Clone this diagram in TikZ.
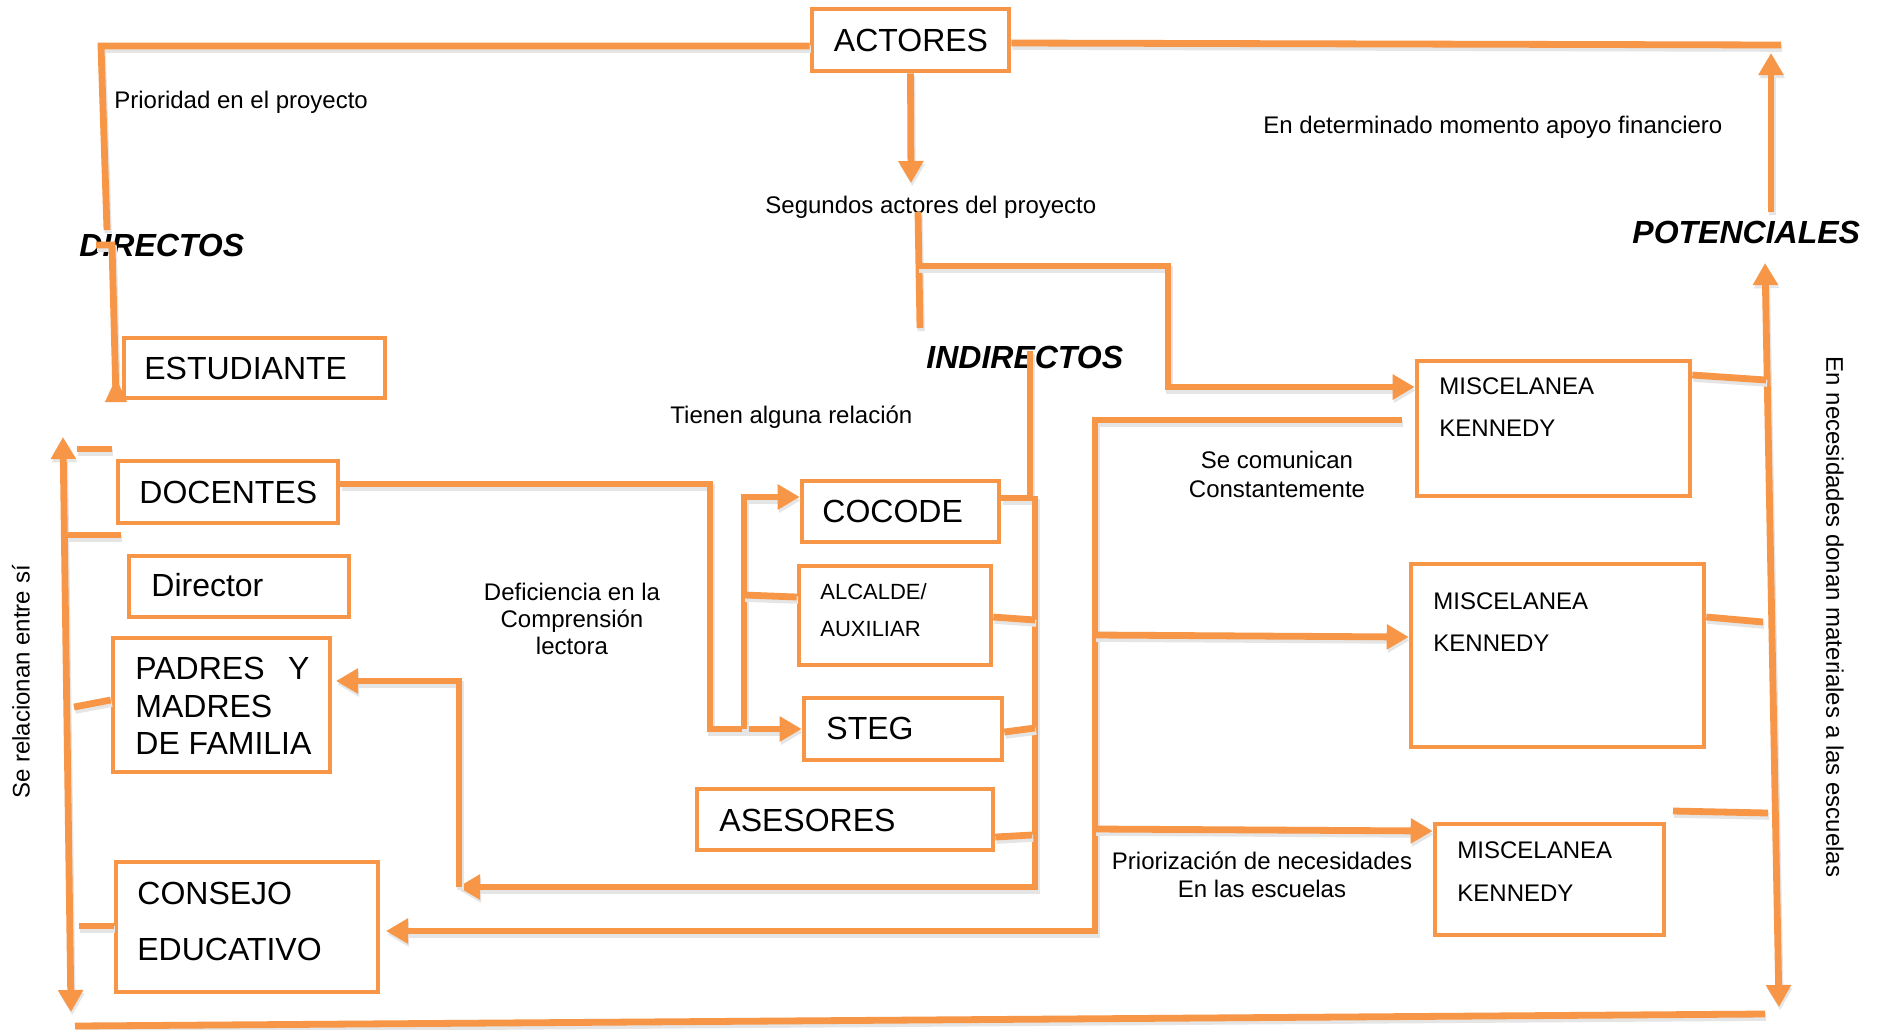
\documentclass[tikz,border=0pt]{standalone}
\usepackage{fontspec}
\setmainfont{Liberation Sans}
\usetikzlibrary{arrows.meta}
\definecolor{org}{RGB}{247,150,70}
\begin{document}
\begin{tikzpicture}[x=0.5pt,y=-0.5pt,
  conn/.style={draw=org, line width=3.4pt, preaction={draw=black!10, line width=3.6pt, transform canvas={shift={(0.6pt,-1.6pt)}}}},
  arr/.style={-{Triangle[length=11pt,width=12pt]}},
  darr/.style={{Triangle[length=11pt,width=12pt]}-{Triangle[length=11pt,width=12pt]}},
  bx/.style 2 args={draw=org, line width=2.3pt, minimum width=#1*0.5pt, minimum height=#2*0.5pt, inner sep=0pt},
  big/.style={font=\fontsize{16}{19}\selectfont, inner sep=0pt},
  lab/.style={font=\fontsize{12}{14}\selectfont, inner sep=0pt},
  sml/.style={font=\fontsize{11}{13}\selectfont, inner sep=0pt},
  hd/.style={font=\fontsize{16}{19}\selectfont\bfseries\itshape, inner sep=0pt}]
\useasboundingbox (0,0) rectangle (1879,1029);
\fill[white] (0,0) rectangle (1879,1029);

% boxes
\node[bx={197}{62}] (actores) at (910.5,40) {};
\node[bx={261}{60}] (estudiante) at (254.5,368) {};
\node[bx={220}{62}] (docentes) at (228,492) {};
\node[bx={220}{61}] (director) at (239,586.5) {};
\node[bx={217}{134}] (padres) at (221.5,705) {};
\node[bx={262}{130}] (consejo) at (247,927) {};
\node[bx={197}{61}] (cocode) at (900.5,511.5) {};
\node[bx={192}{99}] (alcalde) at (895,615.5) {};
\node[bx={198}{62}] (steg) at (903,729) {};
\node[bx={296}{61}] (asesores) at (845,819.5) {};
\node[bx={273}{135}] (misc1) at (1553.5,428.5) {};
\node[bx={293}{183}] (misc2) at (1557.5,655.5) {};
\node[bx={229}{111}] (misc3) at (1549.5,879.5) {};

% box texts
\node[big,anchor=base] (tact) at (911,51) {ACTORES};
\node[big,anchor=base west] (test) at (144,379) {ESTUDIANTE};
\node[big,anchor=base west] (tdoc) at (139,503) {DOCENTES};
\node[big,anchor=base west] (tdir) at (151,596) {Director};
\node[big,anchor=base west] (tpad1) at (135,679) {\hbox to 87pt{PADRES\hfill Y}};
\node[big,anchor=base west] (tpad2) at (135,717) {MADRES};
\node[big,anchor=base west] (tpad3) at (135,754) {DE FAMILIA};
\node[big,anchor=base west] (tcon1) at (137,904) {CONSEJO};
\node[big,anchor=base west] (tcon2) at (137,960) {EDUCATIVO};
\node[big,anchor=base west] (tcoc) at (822,522) {COCODE};
\node[sml,anchor=base west] (talc1) at (820,599) {ALCALDE/};
\node[sml,anchor=base west] (talc2) at (820,636) {AUXILIAR};
\node[big,anchor=base west] (tste) at (826,739) {STEG};
\node[big,anchor=base west] (tase) at (719,831) {ASESORES};
\node[lab,anchor=base west] (tm1a) at (1439,394) {MISCELANEA};
\node[lab,anchor=base west] (tm1b) at (1439,436) {KENNEDY};
\node[lab,anchor=base west] (tm2a) at (1433,609) {MISCELANEA};
\node[lab,anchor=base west] (tm2b) at (1433,651) {KENNEDY};
\node[lab,anchor=base west] (tm3a) at (1457,858) {MISCELANEA};
\node[lab,anchor=base west] (tm3b) at (1457,901) {KENNEDY};

% labels
\node[lab,anchor=base west] (prio) at (114,108) {Prioridad en el proyecto};
\node[lab,anchor=base west] (seg) at (765,213) {Segundos actores del proyecto};
\node[lab,anchor=base west] (fin) at (1263,133) {En determinado momento apoyo financiero};
\node[hd,anchor=base west] (dir) at (79,256) {DIRECTOS};
\node[hd,anchor=base west] (pot) at (1632,243) {POTENCIALES};
\node[hd,anchor=base west] (ind) at (926,368) {INDIRECTOS};
\node[lab,anchor=base west] (tien) at (670,423) {Tienen alguna relación};
\node[lab,anchor=base] (com1) at (1277,468) {Se comunican};
\node[lab,anchor=base] (com2) at (1277,497) {Constantemente};
\node[lab,anchor=base] (def1) at (572,600) {Deficiencia en la};
\node[lab,anchor=base] (def2) at (572,627) {Comprensión};
\node[lab,anchor=base] (def3) at (572,654) {lectora};
\node[lab,anchor=base] (pri1) at (1262,869) {Priorización de necesidades};
\node[lab,anchor=base] (pri2) at (1262,897) {En las escuelas};
\node[lab,rotate=90] (rel) at (21,682) {Se relacionan entre sí};
\node[lab,rotate=-90] (don) at (1835,617) {En necesidades donan materiales a las escuelas};

% connectors
\draw[conn] ([yshift=-3pt]actores.west) -- (101,46) -- (107,230);
\draw[conn] (96,245) -- (112,245) -- (116,398);
\fill[org] (116,378) -- (105,402) -- (127,402) -- cycle;
\draw[conn] ([yshift=-1.5pt]actores.east) -- (1781,45);
\draw[conn,arr] (1771,212) -- (1771,53);
\draw[conn,arr] (actores.south) -- (911,183);
\draw[conn] (918,212) -- (920,328);
\draw[conn,arr] (918,266) -- (1168,266) -- (1168,387) -- (misc1.west |- 0,387);
\draw[conn] (1030,351) -- (1030,498) -- (cocode.east |- 0,498);
\draw[conn,arr] (1035,496) -- (1035,887) -- (458,887);
\draw[conn] (alcalde.east |- 0,617) -- (1035,620);
\draw[conn] (steg.east |- 0,732) -- (1035,728);
\draw[conn] (asesores.east |- 0,837) -- (1032,835);
\draw[conn,arr] (459,887) -- (459,681) -- (336,681);
\draw[conn,arr] (docentes.east |- 0,484) -- (710,484) -- (710,729) -- (steg.west |- 0,729);
\draw[conn,arr] (744,729) -- (744,497) -- (cocode.west |- 0,497);
\draw[conn] (744,595) -- (alcalde.west |- 0,597);
\draw[conn,darr] (63,437) -- (71,1012);
\draw[conn] (77,449) -- (112,449);
\draw[conn] (68,535) -- (121,535);
\draw[conn] (74,707) -- (padres.west |- 0,700);
\draw[conn] (79,926) -- (consejo.west |- 0,926);
\draw[conn] (75,1026) -- (1765,1014);
\draw[conn,darr] (1765,263) -- (1779,1007);
\draw[conn] (misc1.east |- 0,375) -- (1766,380);
\draw[conn] (misc2.east |- 0,617) -- (1763,622);
\draw[conn] (1673,811) -- (1768,813);
\draw[conn,arr] (1402,420) -- (1095,420) -- (1095,931) -- (386,931);
\draw[conn,arr] (1095,635) -- (misc2.west |- 0,637);
\draw[conn,arr] (1095,829) -- (misc3.west |- 0,831);
\end{tikzpicture}
\end{document}
